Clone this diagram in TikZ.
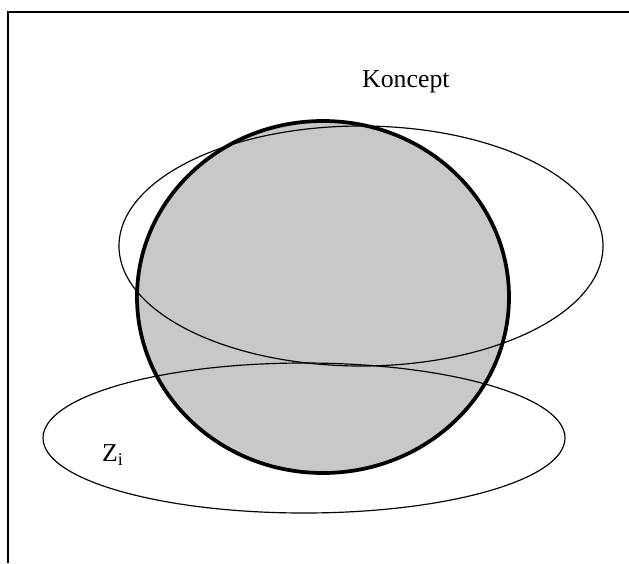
\documentclass[tikz,border=0pt]{standalone}
\usepackage{fontspec}
\setmainfont{Liberation Serif}
\usepackage{tikz}
\definecolor{ballgray}{HTML}{C8C8C8}
\tikzset{
  frame/.style = {draw=black, line width=1.8pt},
  ball/.style  = {draw=black, fill=ballgray, line width=3.2pt},
  orbit/.style = {draw=black, line width=1pt},
  lbl/.style   = {font=\fontsize{22}{26}\selectfont, inner sep=0pt},
}
\begin{document}
\begin{tikzpicture}[x=0.03cm, y=-0.03cm]
  \useasboundingbox (0,0) rectangle (629,563);
  % frame (cut at right and bottom)
  \draw[frame] (8,563) -- (8,12) -- (629,12);

  % sphere
  \draw[ball] (323,297) ellipse [x radius=186, y radius=176];

  % concept and Z_i planes
  \draw[orbit] (361,246) ellipse [x radius=242, y radius=120];
  \draw[orbit] (304,438) ellipse [x radius=261, y radius=75];

  % labels
  \node[lbl, anchor=west] (koncept) at (362,82) {Koncept};
  \node[lbl, anchor=west] (zi) at (102,455) {Z$_{\mathrm{i}}$};
\end{tikzpicture}
\end{document}
